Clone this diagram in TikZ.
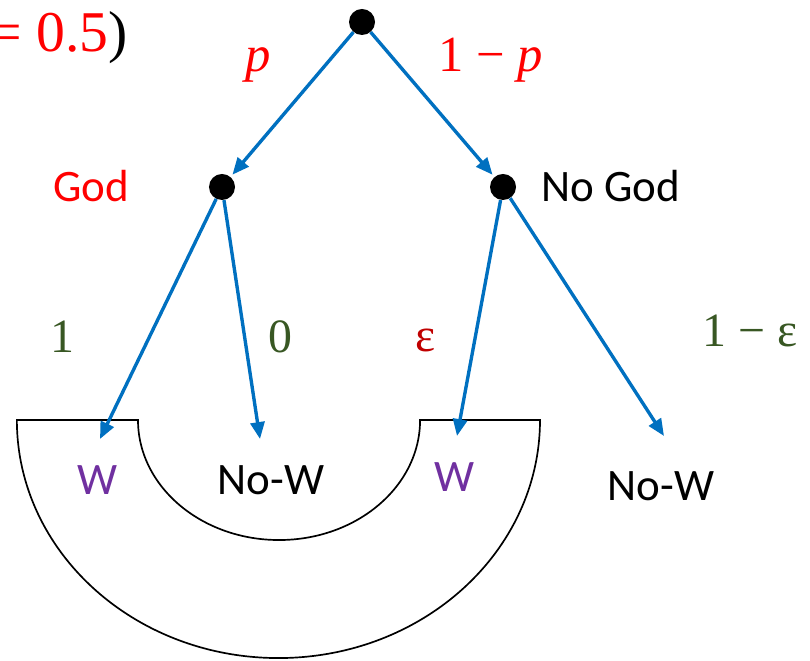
\documentclass[tikz,border=0pt]{standalone}
\usepackage{fontspec}
\usepackage{tikz}
\usetikzlibrary{arrows.meta,positioning}
\newfontfamily\calibfont{Carlito}
\newfontfamily\seriffont{Liberation Serif}
\definecolor{branchblue}{HTML}{0070C0}
\definecolor{probred}{HTML}{FF0000}
\definecolor{epsred}{HTML}{C00000}
\definecolor{probgreen}{HTML}{385723}
\definecolor{wagerpurple}{HTML}{7030A0}
\tikzset{
  chance/.style={circle, fill=black, inner sep=0pt, minimum size=0.65cm},
  branch/.style={-{Triangle[length=12pt,width=10pt]}, line width=2.4pt, color=branchblue},
  statelabel/.style={font=\fontsize{32}{38}\selectfont\calibfont, text=#1,
    inner sep=0pt, anchor=base},
  statelabel/.default=black,
  problabel/.style={font=\fontsize{34}{40}\selectfont\seriffont, text=#1,
    inner sep=0pt, anchor=base},
  problabel/.default=probred,
  zone/.style={draw=black, line width=1.2pt},
}
\begin{document}
\begin{tikzpicture}[x=0.025cm, y=-0.025cm]
  \clip (0,0) rectangle (810,661);
  \node[problabel, font=\fontsize{41}{48}\selectfont\seriffont, anchor=base east] (prior) at (128,52)
    {= 0.5\textcolor{black}{)}};
  % region round the wager outcomes
  \draw[zone] (17,420) -- (138,420)
    arc[start angle=180, end angle=360, x radius=3.525cm, y radius=3cm] -- (540,420)
    arc[start angle=0, end angle=-180, x radius=6.5375cm, y radius=5.95cm] -- cycle;
  % tree
  \node[chance] (root) at (362,22) {};
  \node[chance] (god) at (222,187) {};
  \node[chance] (nogod) at (503,187) {};
  \draw[branch, shorten >=2pt] (root) -- (god);
  \draw[branch, shorten >=2pt] (root) -- (nogod);
  \node[problabel, font=\fontsize{36}{42}\selectfont\seriffont\itshape] (pgod) at (258,72) {p};
  \node[problabel, font=\fontsize{36}{42}\selectfont\seriffont] (pnogod) at (491,72) {1 − \textit{p}};
  \node[statelabel=probred] (godlbl) at (91,202) {God};
  \node[statelabel] (nogodlbl) at (611,202) {No God};
  % outcomes
  \coordinate (wtip) at (100,439);
  \coordinate (nowtip) at (260,439);
  \coordinate (wtiptwo) at (457,436);
  \coordinate (nowtiptwo) at (664,436);
  \draw[branch] (god) -- (wtip);
  \draw[branch] (god) -- (nowtip);
  \draw[branch] (nogod) -- (wtiptwo);
  \draw[branch] (nogod) -- (nowtiptwo);
  \node[problabel=probgreen] (pw) at (62,353) {1};
  \node[problabel=probgreen] (pnow) at (280,353) {0};
  \node[problabel=epsred] (pwtwo) at (426,352) {ε};
  \node[problabel=probgreen] (pnowtwo) at (750,347) {1 − ε};
  \node[statelabel=wagerpurple] (w) at (98,495) {W};
  \node[statelabel] (now) at (271,495) {No-W};
  \node[statelabel=wagerpurple] (wtwo) at (455,492) {W};
  \node[statelabel] (nowtwo) at (661,501) {No-W};
\end{tikzpicture}
\end{document}
